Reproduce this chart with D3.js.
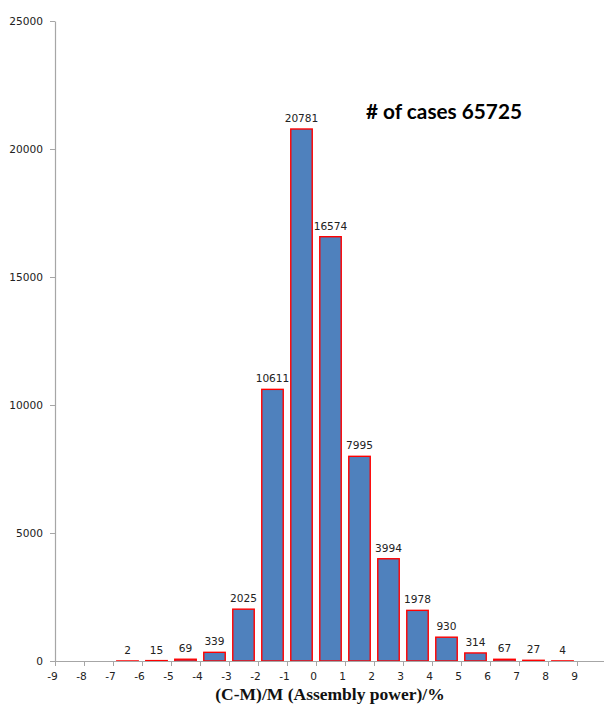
<!DOCTYPE html>
<html>
<head>
<meta charset="utf-8">
<script src="https://cdn.jsdelivr.net/npm/d3@7"></script>
<style>
  html, body { margin: 0; padding: 0; background: #fff; }
  svg { display: block; }
</style>
</head>
<body>
<svg id="chart" width="604" height="704"></svg>
<script>
// Histogram of relative deviation (C-M)/M of assembly power, 1 % bins
const binStart = [-7, -6, -5, -4, -3, -2, -1, 0, 1, 2, 3, 4, 5, 6, 7, 8];
const counts = [2, 15, 69, 339, 2025, 10611, 20781, 16574, 7995, 3994, 1978, 930, 314, 67, 27, 4];
const xTickValues = [-9, -8, -7, -6, -5, -4, -3, -2, -1, 0, 1, 2, 3, 4, 5, 6, 7, 8, 9];
const yTickValues = [0, 5000, 10000, 15000, 20000, 25000];
const totalLabel = "# of cases 65725";
const xTitle = "(C-M)/M (Assembly power)/%";

const svg = d3.select("#chart");

const plotLeft = 55, plotRight = 606, plotTop = 21, plotBottom = 661;

const x = d3.scaleLinear().domain([-9, 10]).range([plotLeft, plotRight]);
const y = d3.scaleLinear().domain([0, 25000]).range([plotBottom, plotTop]);

const axisColor = "#A6A6A6";
const labelFont = "'DejaVu Sans', Verdana, sans-serif";

// y axis
const gy = svg.append("g")
  .attr("transform", `translate(${plotLeft},0)`)
  .call(d3.axisLeft(y).tickValues(yTickValues).tickFormat(d3.format("d"))
    .tickSize(5).tickSizeOuter(0).tickPadding(7));
gy.select(".domain").attr("stroke", axisColor).attr("stroke-width", 1.2);
gy.selectAll(".tick line").attr("stroke", axisColor);
gy.selectAll(".tick text")
  .attr("font-family", labelFont).attr("font-size", 10.6).attr("fill", "#222");

// bars
const unit = x(1) - x(0);
const inset = unit * 0.13;
const barData = binStart.map((s, i) => ({ s, v: counts[i] }));
svg.append("g").selectAll("rect")
  .data(barData)
  .join("rect")
  .attr("x", d => x(d.s) + inset)
  .attr("width", d => x(d.s + 1) - x(d.s) - 2 * inset)
  .attr("y", d => y(d.v))
  .attr("height", d => y(0) - y(d.v))
  .attr("fill", "#4F81BD")
  .attr("stroke", "#FF0000")
  .attr("stroke-width", 1.4);

// x axis
const gx = svg.append("g")
  .attr("transform", `translate(0,${plotBottom})`)
  .call(d3.axisBottom(x).tickValues(xTickValues).tickFormat(d => d < 0 ? "-" + Math.abs(d) : String(d))
    .tickSize(5).tickSizeOuter(0).tickPadding(6));
gx.select(".domain").attr("stroke", axisColor).attr("stroke-width", 1.2);
gx.selectAll(".tick line").attr("stroke", axisColor);
gx.selectAll(".tick text")
  .attr("font-family", labelFont).attr("font-size", 10.6).attr("fill", "#222")
  .attr("dx", -3);

// value labels above bars
svg.append("g").selectAll("text")
  .data(barData)
  .join("text")
  .attr("x", d => x(d.s + 0.5))
  .attr("y", d => y(d.v) - 7)
  .attr("text-anchor", "middle")
  .attr("font-family", labelFont)
  .attr("font-size", 10.6)
  .attr("fill", "#222")
  .text(d => d.v);

// total annotation
svg.append("text")
  .attr("x", 366)
  .attr("y", 119)
  .attr("font-family", "Lato, 'Open Sans', sans-serif")
  .attr("font-weight", "bold")
  .attr("font-size", 21)
  .attr("textLength", 156)
  .attr("lengthAdjust", "spacingAndGlyphs")
  .attr("fill", "#000")
  .text(totalLabel);

// x axis title
svg.append("text")
  .attr("x", 330)
  .attr("y", 700)
  .attr("text-anchor", "middle")
  .attr("font-family", "'Liberation Serif', 'Times New Roman', serif")
  .attr("font-weight", "bold")
  .attr("font-size", 17.5)
  .attr("fill", "#111")
  .text(xTitle);
</script>
</body>
</html>
